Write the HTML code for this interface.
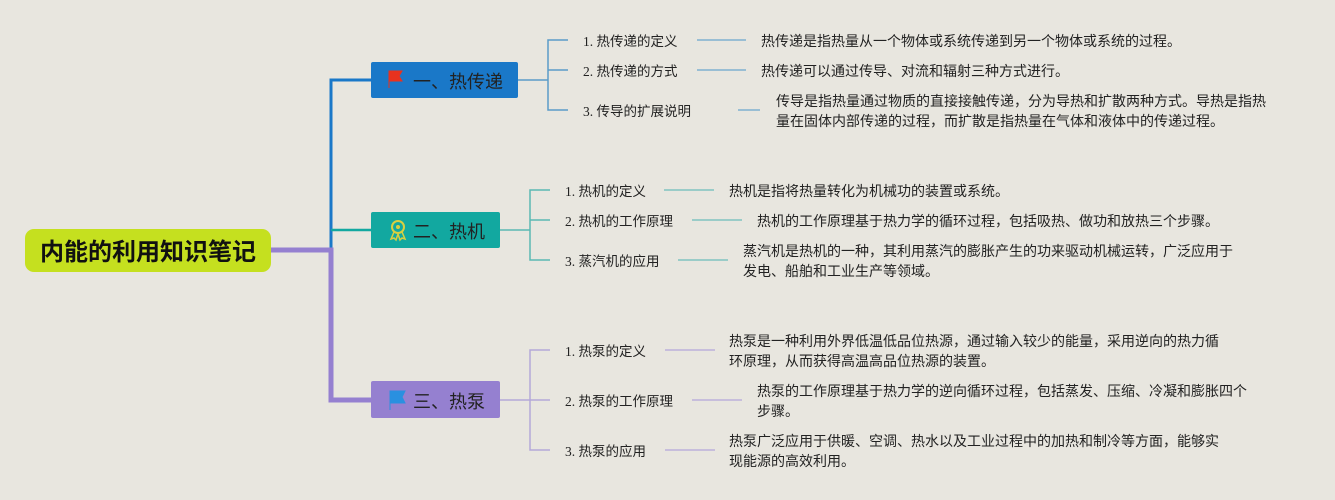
<!DOCTYPE html>
<html><head><meta charset="utf-8"><style>
html,body{margin:0;padding:0;background:#e8e6df;}
svg{display:block;}
text{font-family:"Liberation Sans","Noto Sans CJK SC",sans-serif;fill:#222;}
.i{font-size:13.5px;font-family:"Liberation Serif","Noto Sans CJK SC",sans-serif;}
.d{font-size:14px;}
</style></head><body>
<svg width="1335" height="500" viewBox="0 0 1335 500">
<rect width="1335" height="500" fill="#e8e6df"/>
<path d="M331 250 V80 H371" fill="none" stroke="#1a78c8" stroke-width="3"/>
<path d="M331 230 H371" fill="none" stroke="#12a8a0" stroke-width="2.5"/>
<path d="M271 250 H331 V400 H371" fill="none" stroke="#9580d0" stroke-width="5"/>
<rect x="25" y="229" width="246" height="43" rx="9" fill="#c5e01f"/>
<text x="148" y="260" text-anchor="middle" style="font-size:24px;font-weight:bold;fill:#111">内能的利用知识笔记</text>
<rect x="371" y="62" width="147" height="36" rx="2" fill="#1a78c8"/>
<path d="M389 71 h13 l-3 5 l3 5 h-13 z M389 71 v17" fill="#e8321e" stroke="#e8321e" stroke-width="1"/>
<text x="413" y="88" style="font-size:18px">一、热传递</text>
<path d="M518 80 H548 M568 40 H548 V110 H568 M548 70 H568" fill="none" stroke="#5a9cc8" stroke-width="1.5"/>
<text class="i" x="583" y="46">1. 热传递的定义</text>
<text class="i" x="583" y="76">2. 热传递的方式</text>
<text class="i" x="583" y="116">3. 传导的扩展说明</text>
<path d="M697 40 H746 M697 70 H746 M738 110 H760" stroke="#7fb0d0" stroke-width="1.5"/>
<text class="d" x="761" y="46">热传递是指热量从一个物体或系统传递到另一个物体或系统的过程。</text>
<text class="d" x="761" y="76">热传递可以通过传导、对流和辐射三种方式进行。</text>
<text class="d" x="776" y="106">传导是指热量通过物质的直接接触传递，分为导热和扩散两种方式。导热是指热</text>
<text class="d" x="776" y="126">量在固体内部传递的过程，而扩散是指热量在气体和液体中的传递过程。</text>
<rect x="371" y="212" width="129" height="36" rx="2" fill="#12a8a0"/>
<circle cx="398" cy="227" r="6" fill="none" stroke="#d8d040" stroke-width="2"/>
<circle cx="398" cy="227" r="2" fill="#d8d040"/>
<path d="M394 232 l-3 7 l3 -1 l2 2 l2 -6 M402 232 l3 7 l-3 -1 l-2 2 l-2 -6" fill="none" stroke="#d8d040" stroke-width="1.5"/>
<text x="413" y="238" style="font-size:18px">二、热机</text>
<path d="M500 230 H530 M550 190 H530 V260 H550 M530 220 H550" fill="none" stroke="#5ab8b4" stroke-width="1.5"/>
<text class="i" x="565" y="196">1. 热机的定义</text>
<text class="i" x="565" y="226">2. 热机的工作原理</text>
<text class="i" x="565" y="266">3. 蒸汽机的应用</text>
<path d="M664 190 H714 M692 220 H742 M678 260 H728" stroke="#80c4c0" stroke-width="1.5"/>
<text class="d" x="729" y="196">热机是指将热量转化为机械功的装置或系统。</text>
<text class="d" x="757" y="226">热机的工作原理基于热力学的循环过程，包括吸热、做功和放热三个步骤。</text>
<text class="d" x="743" y="256">蒸汽机是热机的一种，其利用蒸汽的膨胀产生的功来驱动机械运转，广泛应用于</text>
<text class="d" x="743" y="276">发电、船舶和工业生产等领域。</text>
<rect x="371" y="381" width="129" height="37" rx="2" fill="#9580d0"/>
<path d="M390 391 h15 l-3 6 l3 6 h-15 z M390 391 v19" fill="#2a90e0" stroke="#2a90e0" stroke-width="1"/>
<text x="413" y="408" style="font-size:18px">三、热泵</text>
<path d="M500 400 H530 M550 350 H530 V450 H550 M530 400 H550" fill="none" stroke="#b4a8d8" stroke-width="1.5"/>
<text class="i" x="565" y="356">1. 热泵的定义</text>
<text class="i" x="565" y="406">2. 热泵的工作原理</text>
<text class="i" x="565" y="456">3. 热泵的应用</text>
<path d="M665 350 H715 M692 400 H742 M665 450 H715" stroke="#bcb0dc" stroke-width="1.5"/>
<text class="d" x="729" y="346">热泵是一种利用外界低温低品位热源，通过输入较少的能量，采用逆向的热力循</text>
<text class="d" x="729" y="366">环原理，从而获得高温高品位热源的装置。</text>
<text class="d" x="757" y="396">热泵的工作原理基于热力学的逆向循环过程，包括蒸发、压缩、冷凝和膨胀四个</text>
<text class="d" x="757" y="416">步骤。</text>
<text class="d" x="729" y="446">热泵广泛应用于供暖、空调、热水以及工业过程中的加热和制冷等方面，能够实</text>
<text class="d" x="729" y="466">现能源的高效利用。</text>
</svg>
</body></html>
